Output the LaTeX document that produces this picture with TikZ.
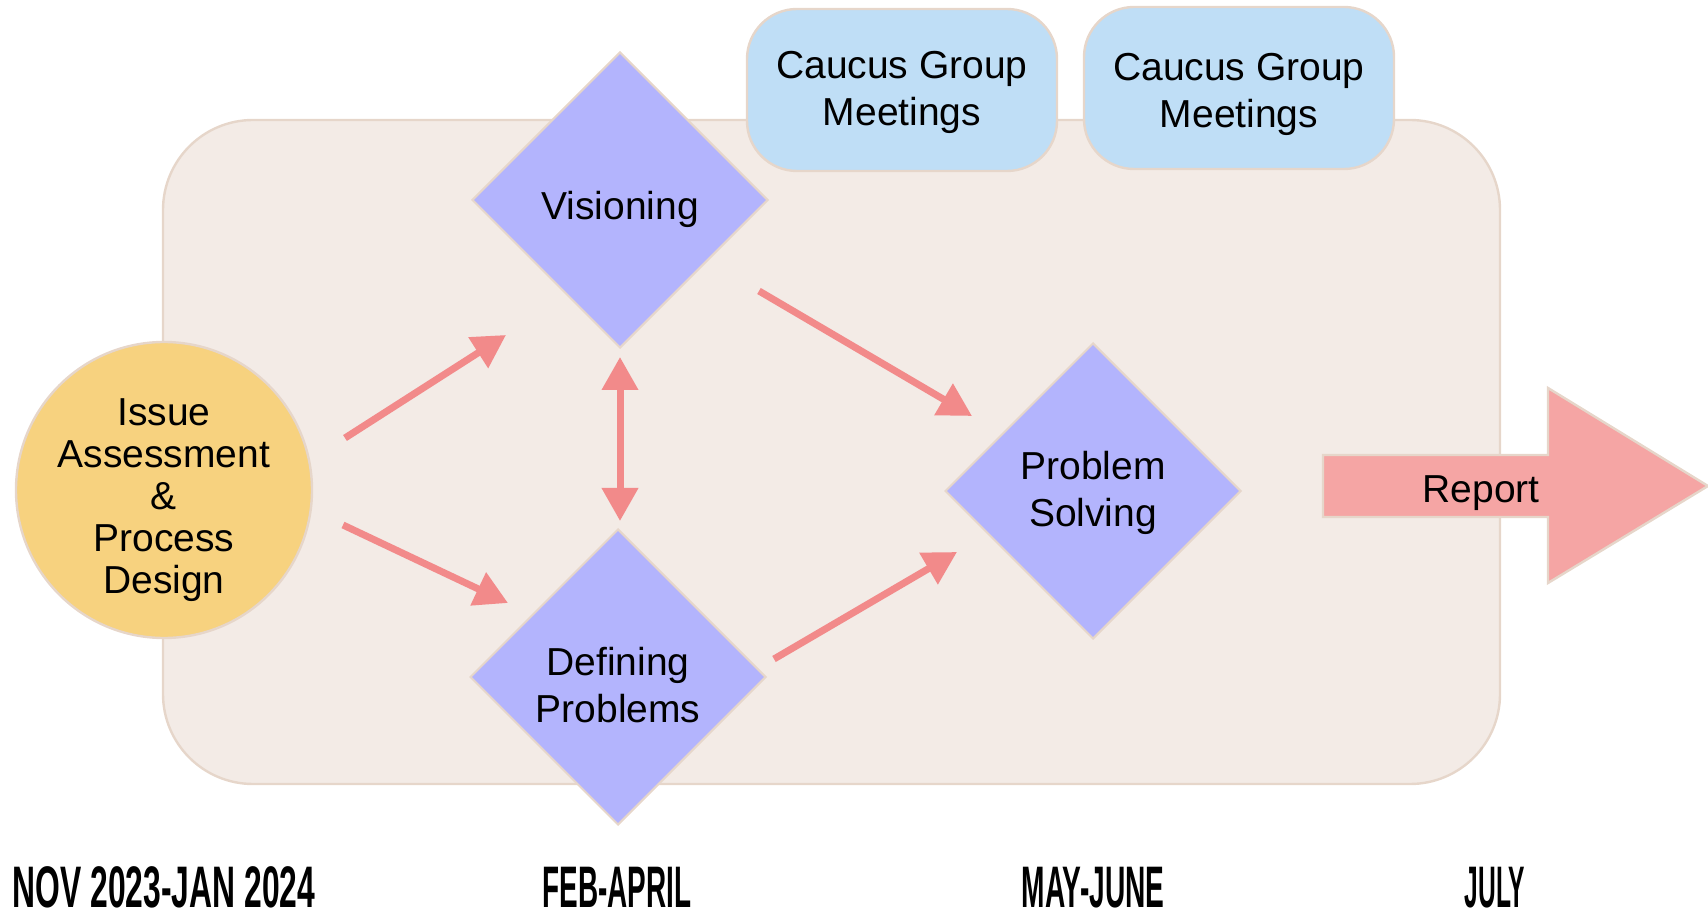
\documentclass[tikz,border=0pt]{standalone}
\usepackage{fontspec}
\setmainfont{Liberation Sans}
\usetikzlibrary{shapes.geometric,arrows.meta}

\definecolor{panel}{HTML}{F3EBE6}
\definecolor{edge}{HTML}{E6D6CA}
\definecolor{gold}{HTML}{F7D27F}
\definecolor{lilac}{HTML}{B3B4FD}
\definecolor{sky}{HTML}{BFDEF6}
\definecolor{salmon}{HTML}{F28A8A}
\definecolor{rose}{HTML}{F5A5A4}

% condensed period label: horizontal squeeze factor, then text
\newcommand{\periodtext}[2]{\scalebox{#1}[1]{#2}}
% invisible strut that makes a first line taller, so the block sits lower
\newcommand{\topstrut}[1]{\rule{0pt}{#1}}

\begin{document}
\begin{tikzpicture}[x=0.5pt,y=-0.5pt,
  txt/.style={font=\fontsize{19.5pt}{23.5pt}\selectfont, align=center, text=black},
  phasebox/.style={diamond, aspect=1, fill=lilac, draw=edge, line width=1pt,
    minimum width=148pt, minimum height=148pt, inner sep=0pt, txt},
  caucus/.style={rectangle, rounded corners=25pt, fill=sky, draw=edge, line width=1.2pt,
    minimum width=155pt, minimum height=81pt, txt},
  startbox/.style={circle, fill=gold, draw=edge, line width=1.2pt, minimum size=148pt,
    inner sep=-12pt, txt, font=\fontsize{19.5pt}{21pt}\selectfont},
  flow/.style={salmon, line width=3.5pt, -{Triangle[length=16.5pt,width=17.5pt]}},
  twoway/.style={salmon, line width=3.5pt, {Triangle[length=16.5pt,width=17.5pt]}-{Triangle[length=16.5pt,width=17.5pt]}},
  period/.style={font=\fontsize{29.3pt}{30pt}\selectfont\bfseries, anchor=base, inner sep=0pt}
]
\useasboundingbox (0,0) rectangle (1708,913);

% background panel for the working phase
\draw[fill=panel, draw=edge, line width=1.2pt, rounded corners=45pt] (163,120) rectangle (1500,784);

% caucus meetings
\node[caucus] (caucusA) at (902,90) {\topstrut{16pt}Caucus Group\\Meetings};
\node[caucus] (caucusB) at (1239,88) {\topstrut{20.5pt}Caucus Group\\Meetings};

% report arrow
\draw[fill=rose, draw=edge, line width=1.2pt]
  (1323,455) -- (1548,455) -- (1548,388) -- (1708,486) -- (1548,583) -- (1548,517) -- (1323,517) -- cycle;
\node[txt, inner sep=0pt] (report) at (1481,493) {Report};

% stages
\node[startbox] (assess) at (164,490) {\topstrut{24pt}Issue\\Assessment\\\&\\Process\\Design};
\node[phasebox] (vision) at (620,200) {\topstrut{24pt}Visioning};
\node[phasebox] (define) at (618,677) {\topstrut{22pt}Defining\\Problems};
\node[phasebox] (solve) at (1093,491) {\topstrut{16pt}Problem\\Solving};

% connector end points
\coordinate (a1s) at (345,438);  \coordinate (a1e) at (506,335);
\coordinate (a2s) at (343,525);  \coordinate (a2e) at (508,603);
\coordinate (a3s) at (620,357);  \coordinate (a3e) at (620,521);
\coordinate (a4s) at (759,291);  \coordinate (a4e) at (972,416);
\coordinate (a5s) at (774,659);  \coordinate (a5e) at (957,552);

\draw[flow] (a1s) -- (a1e);
\draw[flow] (a2s) -- (a2e);
\draw[twoway] (a3s) -- (a3e);
\draw[flow] (a4s) -- (a4e);
\draw[flow] (a5s) -- (a5e);

% timeline
\node[period] (p1) at (164,907) {\periodtext{0.543}{NOV 2023-JAN 2024}};
\node[period] (p2) at (617,907) {\periodtext{0.476}{FEB-APRIL}};
\node[period] (p3) at (1093,907) {\periodtext{0.48}{MAY-JUNE}};
\node[period] (p4) at (1495,907) {\periodtext{0.42}{JULY}};
\end{tikzpicture}
\end{document}
